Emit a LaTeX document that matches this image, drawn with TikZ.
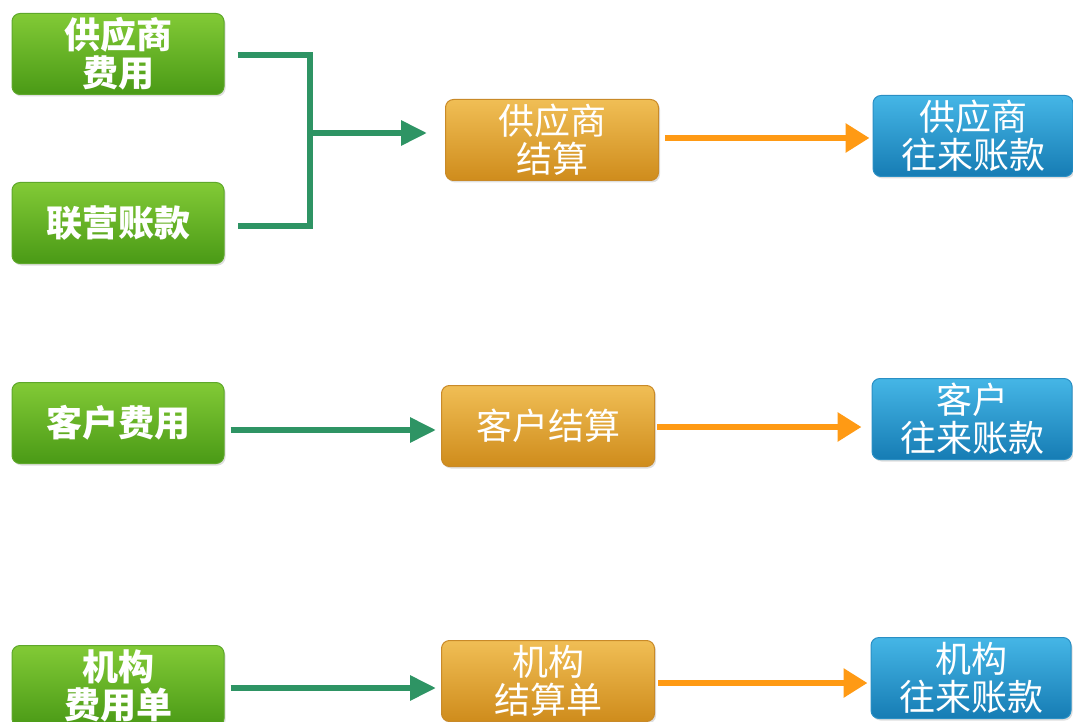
\documentclass[tikz,border=0pt]{standalone}
\usepackage{fontspec}
\setmainfont{Noto Sans CJK SC}
\usetikzlibrary{arrows.meta,calc,shadows}
\definecolor{gtop}{HTML}{82CA36}
\definecolor{gbot}{HTML}{4A9A16}
\definecolor{gedge}{HTML}{5EA82A}
\definecolor{otop}{HTML}{F0BE55}
\definecolor{obot}{HTML}{CF8C1C}
\definecolor{oedge}{HTML}{C98A28}
\definecolor{btop}{HTML}{45B6E6}
\definecolor{bbot}{HTML}{167CB4}
\definecolor{bedge}{HTML}{2A8FC4}
\definecolor{gline}{HTML}{2E9464}
\definecolor{oline}{HTML}{FF9A14}
\tikzset{
  boxbase/.style={rounded corners=8pt, text=white, align=center,
    minimum height=81pt, inner sep=0pt,
    font=\fontsize{36}{38}\selectfont,
    drop shadow={shadow xshift=1.5pt,shadow yshift=-2pt,opacity=0.25}},
  gbox/.style={boxbase, draw=gedge, line width=1pt, top color=gtop, bottom color=gbot, minimum width=212pt, font=\bfseries\fontsize{36}{38}\selectfont},
  obox/.style={boxbase, draw=oedge, line width=1pt, top color=otop, bottom color=obot, minimum width=213pt},
  bbox/.style={boxbase, draw=bedge, line width=1pt, top color=btop, bottom color=bbot, minimum width=200pt},
  garrow/.style={draw=gline, line width=6pt, -{Triangle[length=26pt,width=24pt]}},
  gconn/.style={draw=gline, line width=6pt},
  oarrow/.style={draw=oline, line width=6pt, -{Triangle[length=24pt,width=28pt]}}
}
\begin{document}
\begin{tikzpicture}[x=1pt,y=-1pt]
\useasboundingbox (0,0) rectangle (1073,722);
\begin{scope}
\clip (0,0) rectangle (1073,722);
% green sources
\node[gbox] (g1) at (118,54) {供应商\\费用};
\node[gbox] (g2) at (118,223) {联营账款};
\node[gbox] (g3) at (118,423) {客户费用};
\node[gbox] (g4) at (118,686) {机构\\费用单};
% orange settlements
\node[obox] (o1) at (552,140) {供应商\\结算};
\node[obox] (o2) at (548,426) {客户结算};
\node[obox] (o3) at (548,681) {机构\\结算单};
% blue accounts
\node[bbox] (b1) at (973,136) {供应商\\往来账款};
\node[bbox] (b2) at (972,419) {客户\\往来账款};
\node[bbox] (b3) at (971,678) {机构\\往来账款};
% connectors
\coordinate (jn) at (310,133);
\draw[gconn] ($(g1.east)+(13,1)$) -| (jn) |- ($(g2.east)+(13,3)$);
\draw[garrow] (jn) -- ($(o1.west |- jn)+(-18,0)$);
\draw[garrow] ($(g3.east)+(6,7)$) -- ($(o2.west)+(-5,4)$);
\draw[garrow] ($(g4.east)+(6,2)$) -- ($(o3.west)+(-5,7)$);
\draw[oarrow] ($(o1.east)+(6,-2)$) -- ($(b1.west)+(-3,2)$);
\draw[oarrow] ($(o2.east)+(2,1)$) -- ($(b2.west)+(-10,8)$);
\draw[oarrow] ($(o3.east)+(3,2)$) -- ($(b3.west)+(-3,5)$);
\end{scope}
\end{tikzpicture}
\end{document}
